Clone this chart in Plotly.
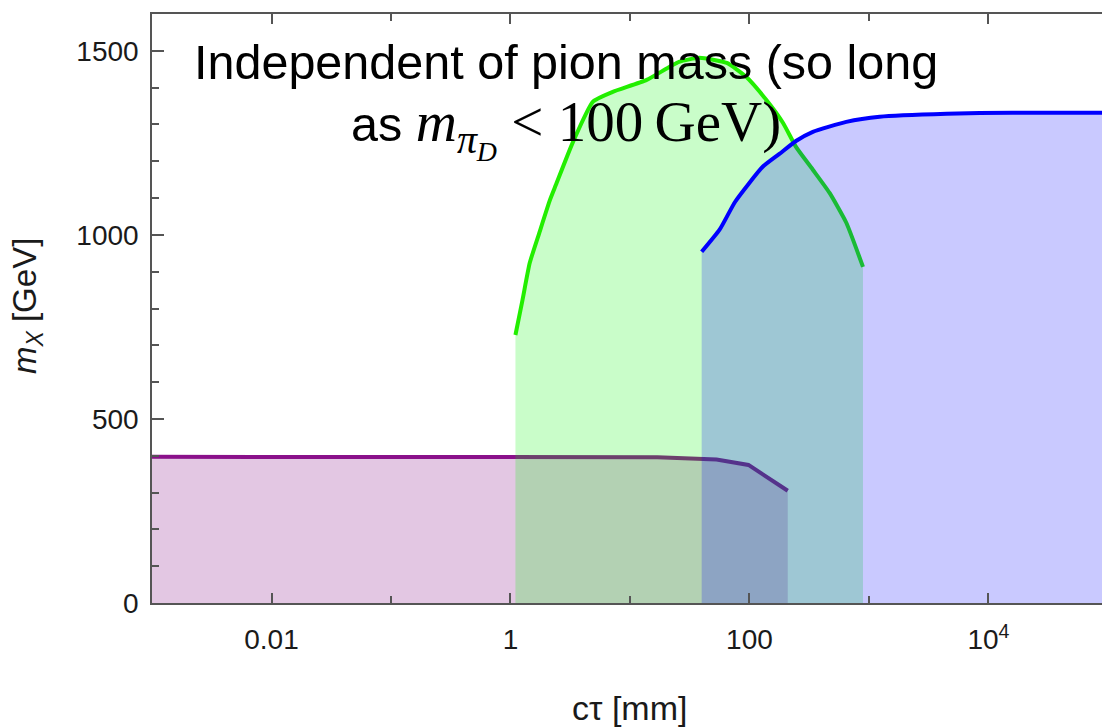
import plotly.graph_objects as go

# Boundary curves: c*tau [mm] vs m_X [GeV]
purple_ctau = [0.001, 1.0, 17.0, 53.0, 98.0, 209.0]
purple_mx = [397, 397, 396, 390, 375, 305]

green_ctau = [1.10, 1.26, 1.45, 1.74, 2.14, 2.40, 3.31, 4.9, 7.1, 13.8, 25.7,
              38.0, 64.6, 93.3, 138, 191, 245, 339, 468, 646, 891]
green_mx = [728, 823, 924, 1005, 1095, 1136, 1250, 1362, 1388, 1421, 1470,
            1481, 1467, 1430, 1367, 1304, 1239, 1177, 1114, 1033, 913]

blue_ctau = [39.8, 56.2, 75.9, 129, 178, 245, 339, 646, 1230, 4470, 15800, 100000]
blue_mx = [954, 1014, 1090, 1185, 1220, 1255, 1280, 1307, 1321, 1329, 1332, 1332]

x_tickvals = [0.01, 1, 100, 10000]
x_ticktext = ["0.01", "1", "100", "10<sup>4</sup>"]
x_minorvals = [0.001, 0.1, 10, 1000]
y_tickvals = [0, 500, 1000, 1500]
y_ticktext = ["0", "500", "1000", "1500"]

SANS = "Liberation Sans, Arial, sans-serif"
AXIS_COLOR = "#555555"
TEXT_COLOR = "#1a1a1a"

series = [
    (purple_ctau, purple_mx, "#8a108a", "rgba(128,0,128,0.22)", "linear"),
    (green_ctau, green_mx, "#22ee00", "rgba(0,245,0,0.21)", "spline"),
    (blue_ctau, blue_mx, "#0000ff", "rgba(0,0,255,0.21)", "spline"),
]

fig = go.Figure()
for xs, ys, line_color, fill_color, shape in series:
    fig.add_trace(go.Scatter(
        x=xs, y=ys, mode="lines",
        line=dict(color=line_color, width=4, shape=shape, smoothing=0.5),
        fill="tozeroy", fillcolor=fill_color,
        hoverinfo="skip", showlegend=False,
    ))

fig.update_layout(
    width=1102, height=728,
    margin=dict(l=152, r=0, t=14, b=125),
    paper_bgcolor="white", plot_bgcolor="white",
    showlegend=False,
    xaxis=dict(
        type="log", range=[-3, 4.95],
        tickmode="array", tickvals=x_tickvals, ticktext=x_ticktext,
        ticks="inside", ticklen=10, tickwidth=1.5, tickcolor=AXIS_COLOR,
        minor=dict(tickmode="array", tickvals=x_minorvals, ticks="inside",
                   ticklen=7, tickwidth=1.5, tickcolor=AXIS_COLOR, showgrid=False),
        showline=True, linecolor=AXIS_COLOR, linewidth=1.5, mirror="ticks",
        showgrid=False, zeroline=False,
        tickfont=dict(family=SANS, size=28, color=TEXT_COLOR),
        ticklabelstandoff=11,
    ),
    yaxis=dict(
        range=[0, 1600],
        tickmode="array", tickvals=y_tickvals, ticktext=y_ticktext,
        ticks="inside", ticklen=12, tickwidth=1.5, tickcolor=AXIS_COLOR,
        minor=dict(dtick=100, tick0=0, ticks="inside", ticklen=7,
                   tickwidth=1.5, tickcolor=AXIS_COLOR, showgrid=False),
        showline=True, linecolor=AXIS_COLOR, linewidth=1.5, mirror=False,
        showgrid=False, zeroline=False,
        tickfont=dict(family=SANS, size=28, color=TEXT_COLOR),
        ticklabelstandoff=6,
    ),
    yaxis2=dict(
        range=[0, 1600], overlaying="y", side="right",
        tickmode="array", tickvals=y_tickvals,
        ticks="inside", ticklen=12, tickwidth=1.5, tickcolor=AXIS_COLOR,
        minor=dict(dtick=100, tick0=0, ticks="inside", ticklen=7,
                   tickwidth=1.5, tickcolor=AXIS_COLOR, showgrid=False),
        showticklabels=False, showline=False, showgrid=False, zeroline=False,
    ),
)

annotations = [
    dict(text="Independent of pion mass (so long",
         x=0.4358, y=0.9185, xanchor="center", yanchor="middle",
         font=dict(family=SANS, size=48.5, color="black")),
    dict(text=("as <span style=\"font-family:'Liberation Serif';font-size:57px\">"
               "<i>m</i><sub><i>π</i><sub><i>D</i></sub></sub>"
               " &lt; 100\u2009GeV)</span>"),
         x=0.4358, y=0.806, xanchor="center", yanchor="middle",
         font=dict(family=SANS, size=48.5, color="black")),
    dict(text="cτ [mm]", x=0.503, y=-0.178, xanchor="center", yanchor="middle",
         font=dict(family=SANS, size=34, color=TEXT_COLOR)),
    dict(text="<i>m</i><sub><i>X</i></sub> [GeV]", x=-0.1316, y=0.504,
         xanchor="center", yanchor="middle", textangle=-90,
         font=dict(family=SANS, size=33, color=TEXT_COLOR)),
]
for a in annotations:
    fig.add_annotation(xref="paper", yref="paper", showarrow=False, **a)

fig.write_html("out.html")
